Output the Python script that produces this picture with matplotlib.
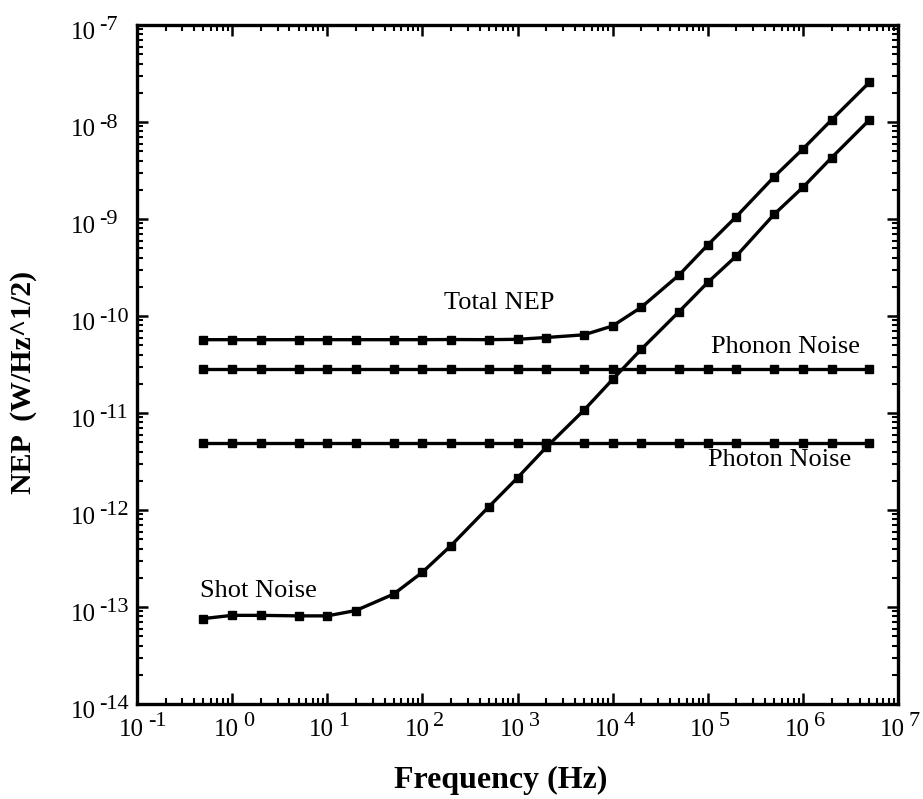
import numpy as np
import matplotlib
matplotlib.use("Agg")
import matplotlib.pyplot as plt
from matplotlib.ticker import LogLocator, NullFormatter

plt.rcParams['font.family'] = ['Liberation Serif', 'DejaVu Serif']

# ---------------- data ----------------
freq = [0.5, 1, 2, 5, 10, 20, 50, 100, 200, 500, 1e3, 2e3, 5e3,
        1e4, 2e4, 5e4, 1e5, 2e5, 5e5, 1e6, 2e6, 5e6]

total_nep = [5.7e-11, 5.7e-11, 5.7e-11, 5.7e-11, 5.7e-11, 5.7e-11, 5.7e-11,
             5.7e-11, 5.72e-11, 5.7e-11, 5.75e-11, 6.0e-11, 6.4e-11,
             7.9e-11, 1.23e-10, 2.65e-10, 5.4e-10, 1.06e-9, 2.73e-9,
             5.27e-9, 1.05e-8, 2.56e-8]

phonon_noise = [2.84e-11, 2.84e-11, 2.84e-11, 2.84e-11, 2.84e-11, 2.84e-11,
                2.84e-11, 2.84e-11, 2.84e-11, 2.84e-11, 2.84e-11, 2.84e-11,
                2.84e-11, 2.84e-11, 2.84e-11, 2.84e-11, 2.84e-11, 2.84e-11,
                2.84e-11, 2.84e-11, 2.84e-11, 2.84e-11]

photon_noise = [4.9e-12, 4.9e-12, 4.9e-12, 4.9e-12, 4.9e-12, 4.9e-12,
                4.9e-12, 4.9e-12, 4.9e-12, 4.9e-12, 4.9e-12, 4.9e-12,
                4.9e-12, 4.9e-12, 4.9e-12, 4.9e-12, 4.9e-12, 4.9e-12,
                4.9e-12, 4.9e-12, 4.9e-12, 4.9e-12]

shot_noise = [7.6e-14, 8.2e-14, 8.2e-14, 8.1e-14, 8.1e-14, 9.2e-14, 1.36e-13,
              2.28e-13, 4.3e-13, 1.08e-12, 2.15e-12, 4.42e-12, 1.07e-11,
              2.22e-11, 4.54e-11, 1.11e-10, 2.22e-10, 4.16e-10, 1.12e-9,
              2.12e-9, 4.28e-9, 1.05e-8]

x_exponents = [-1, 0, 1, 2, 3, 4, 5, 6, 7]
y_exponents = [-14, -13, -12, -11, -10, -9, -8, -7]

series_labels = ["Total NEP", "Phonon Noise", "Photon Noise", "Shot Noise"]
label_pos = [(635, 1.36e-10), (6.55e5, 4.78e-11), (5.66e5, 3.27e-12), (1.9, 1.46e-13)]

# ---------------- figure ----------------
W, H = 923, 799
fig = plt.figure(figsize=(W / 100, H / 100), dpi=100)
ax = fig.add_axes([137 / W, 1 - 704 / H, (898 - 137) / W, (704 - 25) / H])

for ys in (total_nep, phonon_noise, photon_noise, shot_noise):
    ax.plot(freq, ys, color='black', lw=2.4, marker='s', ms=6.2,
            markerfacecolor='black', markeredgecolor='black', solid_joinstyle='round')

ax.set_xscale('log')
ax.set_yscale('log')
ax.set_xlim(1e-1, 1e7)
ax.set_ylim(1e-14, 1e-7)

for sp in ax.spines.values():
    sp.set_linewidth(2.4)

ax.xaxis.set_major_locator(LogLocator(base=10, numticks=20))
ax.yaxis.set_major_locator(LogLocator(base=10, numticks=20))
ax.xaxis.set_minor_locator(LogLocator(base=10, subs=np.arange(2, 10), numticks=200))
ax.yaxis.set_minor_locator(LogLocator(base=10, subs=np.arange(2, 10), numticks=200))
ax.xaxis.set_minor_formatter(NullFormatter())
ax.yaxis.set_minor_formatter(NullFormatter())
ax.tick_params(which='both', direction='in', top=True, right=True,
               labelbottom=False, labelleft=False)
ax.tick_params(which='major', length=8, width=1.8)
ax.tick_params(which='minor', length=4.5, width=1.5)

pt = 72 / 100.0  # points per pixel

# x tick labels: "10" plus raised exponent
for e in x_exponents:
    ax.annotate("10", xy=(10.0 ** e, 0), xycoords=('data', 'axes fraction'),
                xytext=(7 * pt, -26 * pt), textcoords='offset points',
                ha='right', va='center', fontsize=18)
    ax.annotate(str(e), xy=(10.0 ** e, 0), xycoords=('data', 'axes fraction'),
                xytext=(11 * pt, -17 * pt), textcoords='offset points',
                ha='left', va='center', fontsize=16)

# y tick labels
for e in y_exponents:
    ax.annotate("10", xy=(0, 10.0 ** e), xycoords=('axes fraction', 'data'),
                xytext=(-41 * pt, -8 * pt), textcoords='offset points',
                ha='right', va='center', fontsize=18)
    ax.annotate(str(e), xy=(0, 10.0 ** e), xycoords=('axes fraction', 'data'),
                xytext=(-38 * pt, -1 * pt), textcoords='offset points',
                ha='left', va='center', fontsize=16)

for lab, (lx, ly) in zip(series_labels, label_pos):
    ax.text(lx, ly, lab, ha='center', va='center', fontsize=19)

fig.text(501 / W, 1 - 780 / H, "Frequency (Hz)", ha='center', va='center',
         fontsize=23, fontweight='bold')
fig.text(24 / W, 1 - 382 / H, "NEP  (W/Hz^1/2)", ha='center', va='center',
         rotation=90, fontsize=21.5, fontweight='bold')

fig.savefig("out.png", dpi=100)
